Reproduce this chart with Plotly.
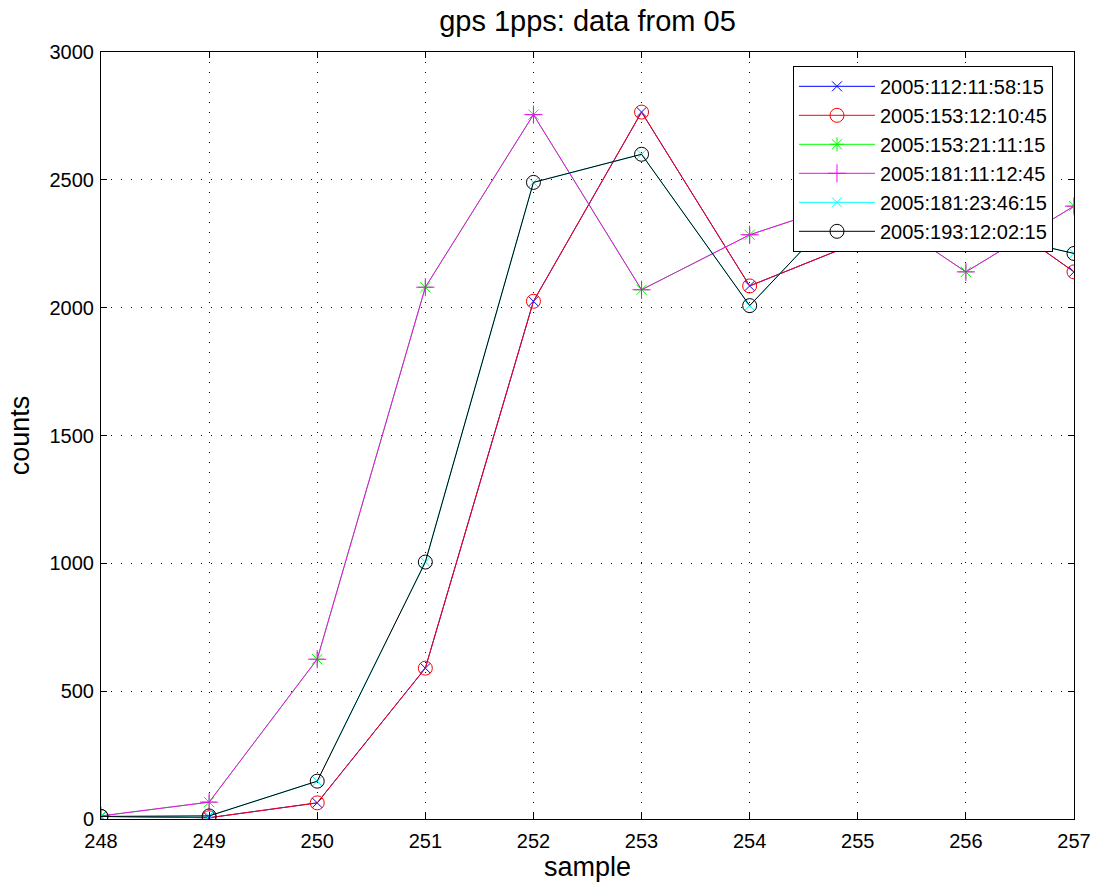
import plotly.graph_objects as go

samples = [248, 249, 250, 251, 252, 253, 254, 255, 256, 257]

labels = [
    "2005:112:11:58:15",
    "2005:153:12:10:45",
    "2005:153:21:11:15",
    "2005:181:11:12:45",
    "2005:181:23:46:15",
    "2005:193:12:02:15",
]

s_112_115815 = [10, 5, 63, 590, 2025, 2765, 2085, 2255, 2440, 2140]
s_153_121045 = [10, 5, 63, 590, 2025, 2765, 2085, 2255, 2440, 2140]
s_153_211115 = [12, 66, 625, 2080, 2755, 2070, 2285, 2425, 2140, 2397]
s_181_111245 = [12, 66, 625, 2080, 2755, 2070, 2285, 2425, 2140, 2397]
s_181_234615 = [10, 12, 148, 1005, 2490, 2600, 2008, 2455, 2310, 2212]
s_193_120215 = [10, 12, 148, 1005, 2490, 2600, 2008, 2455, 2310, 2212]

y_ticks = [0, 500, 1000, 1500, 2000, 2500, 3000]

series = [s_112_115815, s_153_121045, s_153_211115, s_181_111245, s_181_234615, s_193_120215]
colors = ["#0000ff", "#ff0000", "#00ff00", "#ff00ff", "#00ffff", "#000000"]
symbols = ["x-thin-open", "circle-open", "asterisk-open", "cross-thin-open", "x-thin-open", "circle-open"]
sizes = [10, 14, 12, 13, 10, 14]

font_family = "Liberation Sans, Arial, Helvetica, sans-serif"

fig = go.Figure()
for name, ys, c, sym, sz in zip(labels, series, colors, symbols, sizes):
    fig.add_trace(go.Scatter(
        x=samples, y=ys, name=name, mode="lines+markers",
        line=dict(color=c, width=1),
        marker=dict(symbol=sym, size=sz, color=c, line=dict(color=c, width=1)),
    ))

axis_common = dict(
    showline=True, linecolor="black", linewidth=1, mirror="ticks",
    ticks="inside", ticklen=6, tickcolor="black", tickwidth=1,
    showgrid=True, gridcolor="black", gridwidth=1, griddash="1px,9px",
    zeroline=False, automargin=False,
    tickfont=dict(family=font_family, size=20, color="black"),
)

fig.update_layout(
    width=1096, height=882,
    margin=dict(l=101, r=22, t=52, b=63),
    paper_bgcolor="white", plot_bgcolor="white",
    font=dict(family=font_family, color="black"),
    title=dict(text="gps 1pps: data from 05", xref="paper", x=0.5, xanchor="center",
               y=0.976, yanchor="middle",
               font=dict(family=font_family, size=29, color="black")),
    xaxis=dict(range=[248, 257], tickmode="array", tickvals=samples,
               ticklabelstandoff=4,
               title=dict(text="sample", font=dict(family=font_family, size=27), standoff=2),
               **axis_common),
    yaxis=dict(range=[0, 3000], tickmode="array", tickvals=y_ticks,
               ticklabelstandoff=2,
               title=dict(text="counts", font=dict(family=font_family, size=27), standoff=12),
               **axis_common),
    legend=dict(x=0.9784, y=0.982, xanchor="right", yanchor="top",
                bgcolor="white", bordercolor="black", borderwidth=1,
                font=dict(family=font_family, size=20, color="black"),
                itemwidth=76, tracegroupgap=0),
    showlegend=True,
)

fig.write_html("out.html")
